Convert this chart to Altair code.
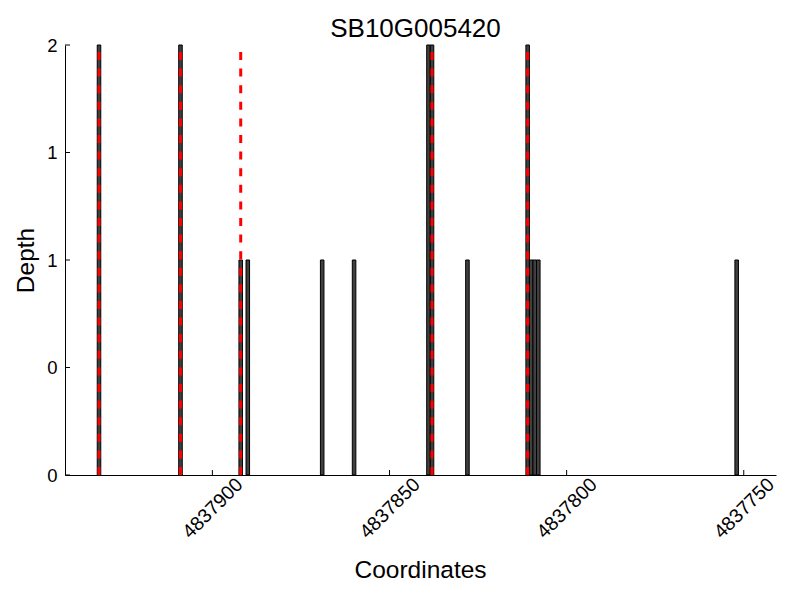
import altair as alt
import pandas as pd

# --- data ---
positions = [4837932, 4837909, 4837892, 4837890, 4837869, 4837860, 4837839,
             4837838, 4837828, 4837811, 4837810, 4837809, 4837808, 4837752]
depths = [2, 2, 1, 1, 1, 1, 2, 2, 1, 2, 1, 1, 1, 1]
red_positions = [4837932, 4837909, 4837892, 4837838, 4837811]
x_ticks = [4837900, 4837850, 4837800, 4837750]
y_ticks = [0, 0.5, 1, 1.5, 2]
x_domain = [4837740.9, 4837941.6]
y_domain = [0, 2]

FONT = "Liberation Sans"
W, H = 711, 430

bars_df = pd.DataFrame({"pos": positions, "depth": depths})
red_df = pd.DataFrame({"pos": red_positions})
xt_df = pd.DataFrame({"pos": x_ticks})
yt_df = pd.DataFrame({"depth": y_ticks})

xs = alt.Scale(domain=x_domain, reverse=True, nice=False, zero=False)
ys = alt.Scale(domain=y_domain, nice=False, zero=False)

x_axis = alt.Axis(
    title="Coordinates", values=x_ticks, format="d",
    labelAngle=315, labelAlign="center", labelBaseline="middle",
    labelPadding=33, labelFontSize=19.5, titleX=355, titleY=102,
    titleBaseline="alphabetic", titleAlign="center",
)
y_axis = alt.Axis(
    title="Depth", values=y_ticks, labelExpr="'' + floor(datum.value)",
    labelPadding=8, labelFontSize=18.5, titleX=-31.7, titleY=215,
    titleBaseline="alphabetic", titleAlign="center", titleAngle=270,
)

X = lambda f: alt.X(f, scale=xs, axis=x_axis, title="Coordinates")
Y = lambda f: alt.Y(f, scale=ys, axis=y_axis, title="Depth")

bars = alt.Chart(bars_df).transform_calculate(
    start="datum.pos - 0.5", end="datum.pos + 0.5", zero="0"
).mark_bar(fill="#404040", stroke="black", strokeWidth=1).encode(
    x=X("start:Q"),
    x2="end:Q",
    y=Y("zero:Q"),
    y2="depth:Q",
)

red = alt.Chart(red_df).transform_calculate(lo="0", hi="2").mark_rule(
    color="#ff0000", strokeWidth=3, strokeDash=[8, 8.6]
).encode(
    x=X("pos:Q"),
    y=Y("lo:Q"),
    y2="hi:Q",
)

xticks_layer = alt.Chart(xt_df).mark_rule(color="black", strokeWidth=1).encode(
    x=X("pos:Q"),
    y=alt.value(H),
    y2=alt.value(H - 5),
)

yticks_layer = alt.Chart(yt_df).mark_rule(color="black", strokeWidth=1).encode(
    y=Y("depth:Q"),
    x=alt.value(0),
    x2=alt.value(5),
)

chart = alt.layer(bars, red, xticks_layer, yticks_layer).properties(
    width=W,
    height=H,
    title=alt.Title(
        "SB10G005420", fontSize=26, font=FONT, fontWeight="normal",
        color="black", offset=8, anchor="middle", dx=-5, dy=14,
    ),
    autosize=alt.AutoSizeParams(type="none"),
    padding={"left": 57, "top": 37, "right": 16, "bottom": 117},
    background="white",
).configure_view(stroke=None).configure_axis(
    grid=False, ticks=False, tickSize=0, domainColor="black", domainWidth=1,
    labelFontSize=18, labelFont=FONT, labelColor="black",
    labelOverlap=False, labelFlush=False,
    titleFontSize=24.5, titleFont=FONT, titleFontWeight="normal",
    titleColor="black",
)

chart.save("out.html", embed_options={"renderer": "svg", "actions": False})
